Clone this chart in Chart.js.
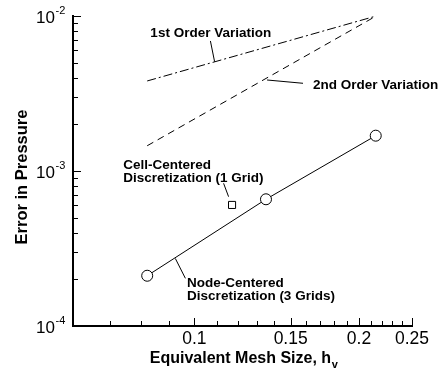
<!DOCTYPE html>
<html>
<head>
<meta charset="utf-8">
<script src="https://cdn.jsdelivr.net/npm/chart.js@4.4.1/dist/chart.umd.min.js"></script>
<style>
  body { margin: 0; background: #fff; }
  #wrap { width: 440px; height: 373px; }
</style>
</head>
<body>
<div id="wrap"><canvas id="errChart" width="440" height="373"></canvas></div>
<script>
// values (log-log)
const nodeH = [0.082, 0.1352, 0.2146]
const nodeErr = [2.11e-4, 6.57e-4, 1.69e-3]
const cellH = [0.1172]
const cellErr = [6.04e-4]
const refH = [0.082, 0.215]
const firstOrderErr = [3.81e-3, 1.0e-2]
const secondOrderErr = [1.455e-3, 1.0e-2]

const xTickLabels = [0.1, 0.15, 0.2, 0.25]
const xMinorTicks = [0.06, 0.07, 0.08, 0.09, 0.11, 0.12, 0.13, 0.14, 0.16, 0.17, 0.18, 0.19, 0.21, 0.22, 0.23, 0.24]
const yTickExps = [-4, -3, -2]

const FONT = '"Liberation Sans", Arial, Helvetica, sans-serif'

const pts = (xs, ys) => xs.map((x, i) => ({x: x, y: ys[i]}))

// text callouts, anchored in data coordinates
const notes = [
    {lines: ['1st Order Variation'], at: [0.0831, 0.00729], leader: [[0.1070, 0.00690], [0.1089, 0.00507]]},
    {lines: ['2nd Order Variation'], at: [0.1648, 0.003365], leader: [[0.1358, 0.003865], [0.158, 0.00368]]},
    {lines: ['Cell-Centered', 'Discretization (1 Grid)'], at: [0.0741, 0.001026], leader: [[0.1131, 0.000833], [0.1155, 0.000683]]},
    {lines: ['Node-Centered', 'Discretization (3 Grids)'], at: [0.0970, 0.000178], leader: [[0.0923, 0.000273], [0.0963, 0.000203]]},
]

const axesPlugin = {
    id: 'tecAxes',
    afterDraw(chart) {
        const ctx = chart.ctx
        const xs = chart.scales.x
        const ys = chart.scales.y
        const a = chart.chartArea
        ctx.save()
        ctx.strokeStyle = '#000'
        ctx.fillStyle = '#000'

        // axis lines
        ctx.lineWidth = 2
        ctx.beginPath()
        ctx.moveTo(a.left, a.top - 1)
        ctx.lineTo(a.left, a.bottom)
        ctx.lineTo(a.right + 1, a.bottom)
        ctx.stroke()

        // ticks (inward)
        ctx.lineWidth = 1
        ctx.beginPath()
        yTickExps.forEach((e, i) => {
            const major = Math.round(ys.getPixelForValue(Math.pow(10, e))) + 0.5
            ctx.moveTo(a.left, major)
            ctx.lineTo(a.left + 8, major)
            if (i < yTickExps.length - 1) {
                for (let m = 2; m <= 9; m++) {
                    const p = Math.round(ys.getPixelForValue(m * Math.pow(10, e))) + 0.5
                    ctx.moveTo(a.left, p)
                    ctx.lineTo(a.left + 5, p)
                }
            }
        })
        xTickLabels.forEach(v => {
            const p = Math.round(xs.getPixelForValue(v)) + 0.5
            ctx.moveTo(p, a.bottom)
            ctx.lineTo(p, a.bottom - 8)
        })
        xMinorTicks.forEach(v => {
            const p = Math.round(xs.getPixelForValue(v)) + 0.5
            ctx.moveTo(p, a.bottom)
            ctx.lineTo(p, a.bottom - 5)
        })
        ctx.stroke()

        // y tick labels 10^n
        yTickExps.forEach(e => {
            const p = ys.getPixelForValue(Math.pow(10, e))
            ctx.font = '17px ' + FONT
            ctx.textAlign = 'right'
            ctx.textBaseline = 'alphabetic'
            ctx.fillText('10', a.left - 18, p + 7)
            ctx.font = '11px ' + FONT
            ctx.textAlign = 'left'
            ctx.fillText('-' + Math.abs(e), a.left - 17.5, p - 2)
        })

        // x tick labels
        ctx.font = '17.5px ' + FONT
        ctx.textAlign = 'center'
        xTickLabels.forEach(v => {
            ctx.fillText(String(v), xs.getPixelForValue(v), a.bottom + 18)
        })

        // x title with subscript
        const main = 'Equivalent Mesh Size, h'
        ctx.font = 'bold 16px ' + FONT
        const w1 = ctx.measureText(main).width
        ctx.font = 'bold 11px ' + FONT
        const w2 = ctx.measureText('v').width
        const x0 = (a.left + a.right) / 2 - (w1 + w2) / 2 + 1
        ctx.textAlign = 'left'
        ctx.font = 'bold 16px ' + FONT
        ctx.fillText(main, x0, a.bottom + 37)
        ctx.font = 'bold 11px ' + FONT
        ctx.fillText('v', x0 + w1 + 0.5, a.bottom + 42)

        // y title
        ctx.save()
        ctx.translate(27, (a.top + a.bottom) / 2 + 6)
        ctx.rotate(-Math.PI / 2)
        ctx.font = 'bold 16.5px ' + FONT
        ctx.textAlign = 'center'
        ctx.fillText('Error in Pressure', 0, 0)
        ctx.restore()

        // callouts
        ctx.font = 'bold 13.5px ' + FONT
        ctx.textAlign = 'left'
        notes.forEach(n => {
            const tx = xs.getPixelForValue(n.at[0])
            const ty = ys.getPixelForValue(n.at[1])
            n.lines.forEach((t, i) => ctx.fillText(t, tx, ty + i * 12.5))
            ctx.beginPath()
            ctx.moveTo(xs.getPixelForValue(n.leader[0][0]), ys.getPixelForValue(n.leader[0][1]))
            ctx.lineTo(xs.getPixelForValue(n.leader[1][0]), ys.getPixelForValue(n.leader[1][1]))
            ctx.stroke()
        })
        ctx.restore()
    }
}

const config = {
    type: 'scatter',
    data: {
        datasets: [
            {
                label: 'Node-Centered',
                data: pts(nodeH, nodeErr),
                showLine: true,
                borderColor: '#000',
                borderWidth: 1,
                pointStyle: 'circle',
                pointRadius: 5.5,
                pointBackgroundColor: '#fff',
                pointBorderColor: '#000',
                pointBorderWidth: 1,
            },
            {
                label: 'Cell-Centered',
                data: pts(cellH, cellErr),
                showLine: false,
                pointStyle: 'rect',
                pointRadius: 5,
                pointBackgroundColor: '#fff',
                pointBorderColor: '#000',
                pointBorderWidth: 1,
            },
            {
                label: '1st Order',
                data: pts(refH, firstOrderErr),
                showLine: true,
                borderColor: '#000',
                borderWidth: 1,
                borderDash: [9, 3, 2, 3],
                pointRadius: 0,
            },
            {
                label: '2nd Order',
                data: pts(refH, secondOrderErr),
                showLine: true,
                borderColor: '#000',
                borderWidth: 1,
                borderDash: [7, 5],
                pointRadius: 0,
            },
        ]
    },
    options: {
        responsive: false,
        animation: false,
        devicePixelRatio: 1,
        clip: false,
        layout: {padding: {left: 73, top: 16, right: 28, bottom: 47}},
        plugins: {legend: {display: false}, tooltip: {enabled: false}},
        scales: {
            x: {type: 'logarithmic', min: 0.06, max: 0.25, display: false},
            y: {type: 'logarithmic', min: 1e-4, max: 1e-2, display: false},
        }
    },
    plugins: [axesPlugin]
}

const myChart = new Chart(document.getElementById('errChart'), config)
</script>
</body>
</html>
